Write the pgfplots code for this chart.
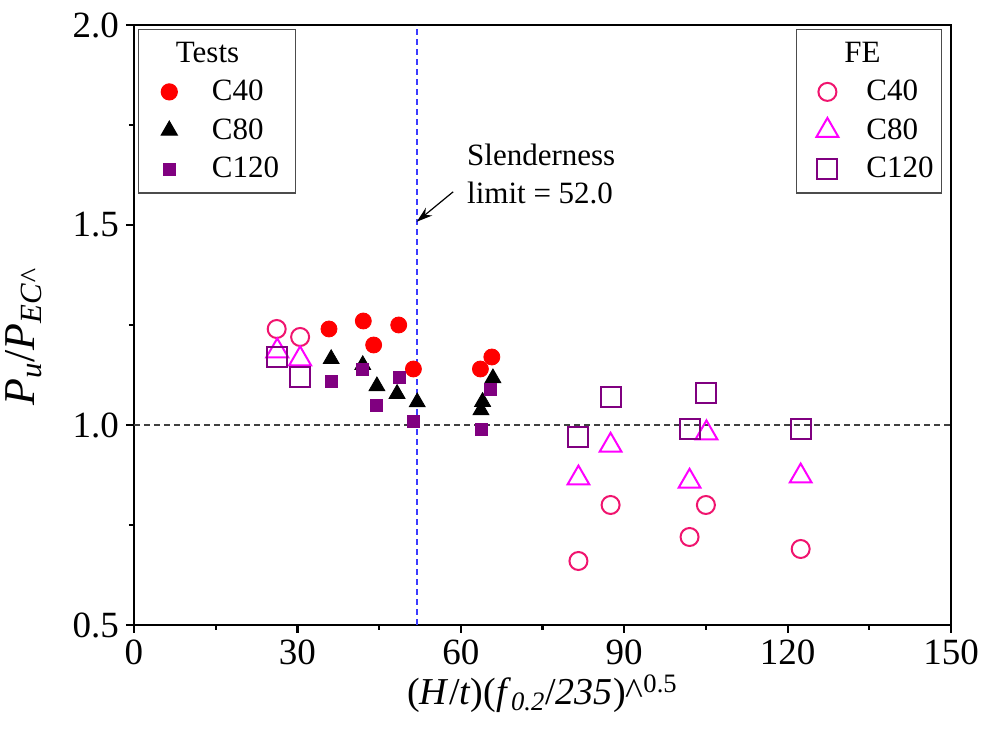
\documentclass[border=0pt]{standalone}
\usepackage{fontspec}
\setmainfont{Liberation Serif}
\usepackage{pgfplots}
\pgfplotsset{compat=1.18}
\usetikzlibrary{arrows.meta}
\definecolor{feRed}{RGB}{240,20,110}
\definecolor{fePink}{RGB}{255,0,255}
\definecolor{myPurple}{RGB}{128,0,128}
\definecolor{refBlue}{RGB}{60,60,255}

\pgfplotsset{
  common/.style={
    at={(0,0)}, anchor=south west,
    scale only axis, width=408.5pt, height=300pt,
    xmin=0, xmax=150, ymin=0.5, ymax=2.0,
  },
  mylegend/.style={
    legend style={draw=black!70, line width=0.6pt, fill=white,
      font=\fontsize{15.5}{18}\selectfont, row sep=3.5pt,
      inner xsep=5pt, inner ysep=4pt, cells={anchor=west},
      nodes={text width=#1, align=left}},
    legend cell align=left,
  },
  imgA/.style={
    legend image code/.code={%
      \path (0pt,0pt) (29pt,0pt);
      \draw[mark repeat=2, mark phase=2, ##1] plot coordinates {(0pt,0pt) (10pt,0pt) (20pt,0pt)};},
  },
  imgB/.style={
    legend image code/.code={%
      \path (0pt,0pt) (27pt,0pt);
      \draw[mark repeat=2, mark phase=2, ##1] plot coordinates {(0pt,0pt) (10pt,0pt) (20pt,0pt)};},
  },
}

\begin{document}
\begin{tikzpicture}
\useasboundingbox (-67pt,-58.5pt) rectangle (425.5pt,312.5pt);
\begin{axis}[common,
  axis line style={line width=1.2pt},
  xtick={0,30,...,150}, ytick={0.5,1.0,1.5,2.0},
  minor x tick num=1, minor y tick num=1,
  tick align=outside, tick pos=left,
  major tick length=4pt, minor tick length=2.5pt,
  tick style={line width=1.1pt, black},
  ticklabel style={font=\fontsize{18.5}{20}\selectfont},
  /pgf/number format/assume math mode=true,
  yticklabel style={/pgf/number format/fixed, /pgf/number format/fixed zerofill, /pgf/number format/precision=1},
  xlabel={(\textit{H}/\textit{t})(\textit{f}\textsubscript{\textit{0.2}}/\textit{235})\^{}\textsuperscript{0.5}},
  xlabel style={font=\fontsize{19}{22}\selectfont, at={(axis description cs:0.5,0)}, anchor=base, yshift=-40pt},
  ylabel={\textit{P}\textsubscript{\textit{u}}/\textit{P}\textsubscript{\textit{EC\^{}}}},
  ylabel style={font=\fontsize{22}{24}\selectfont, at={(axis description cs:-0.135,0.48)}, anchor=center},
  legend style={at={(0.005,0.993)}, anchor=north west},
  mylegend=35pt, imgA,
]
\addplot[color=refBlue, dash pattern=on 3pt off 2pt, line width=0.8pt, forget plot] coordinates {(52,0.5) (52,2.0)};
\addplot[color=black!75, dash pattern=on 3pt off 2pt, line width=0.8pt, forget plot] coordinates {(0,1.0) (150,1.0)};
\addlegendimage{empty legend}
\addlegendentry{\hspace*{-18pt}Tests}
\addplot[only marks, mark=*, mark size=4pt, draw=red, fill=red] coordinates {
 (35.8,1.24) (42.1,1.26) (44.0,1.20) (48.6,1.25) (51.3,1.14) (63.6,1.14) (65.7,1.17)};
\addlegendentry{C40}
\addplot[only marks, mark=triangle*, mark size=4.6pt, draw=black, fill=black] coordinates {
 (36.2,1.165) (42.0,1.15) (44.6,1.097) (48.3,1.078) (52.0,1.057) (64.0,1.058) (63.7,1.037) (65.9,1.117)};
\addlegendentry{C80}
\addplot[only marks, mark=square*, mark size=3pt, draw=myPurple, fill=myPurple] coordinates {
 (36.3,1.11) (42.0,1.14) (44.5,1.05) (48.8,1.12) (51.3,1.01) (63.7,0.99) (65.5,1.09)};
\addlegendentry{C120}
\draw[-{Stealth[length=8pt,width=5pt]}, line width=0.6pt] (axis cs:58.6,1.583) -- (axis cs:51.9,1.508);
\node[anchor=west, align=left, font=\fontsize{15.5}{19}\selectfont, inner sep=0pt] at (axis cs:61.1,1.628) {Slenderness\\limit = 52.0};
\end{axis}
\begin{axis}[common, hide axis,
  legend style={at={(0.989,0.993)}, anchor=north east},
  mylegend=30.5pt, imgB,
]
\addlegendimage{empty legend}
\addlegendentry{\hspace*{-11pt}FE}
\addplot[only marks, mark=o, mark size=4.5pt, draw=feRed, line width=1pt] coordinates {
 (26.2,1.24) (30.5,1.22) (81.6,0.66) (87.5,0.80) (102.0,0.72) (105.0,0.80) (122.4,0.69)};
\addlegendentry{C40}
\addplot[only marks, mark=triangle, mark size=6.3pt, draw=fePink, line width=1pt] coordinates {
 (26.3,1.185) (30.5,1.165) (81.6,0.867) (87.5,0.949) (102.0,0.859) (105.1,0.98) (122.4,0.872)};
\addlegendentry{C80}
\addplot[only marks, mark=square, mark size=5pt, draw=myPurple, line width=1pt] coordinates {
 (26.2,1.17) (30.5,1.12) (81.6,0.97) (87.5,1.07) (102.0,0.99) (105.0,1.08) (122.4,0.99)};
\addlegendentry{C120}
\end{axis}
\end{tikzpicture}
\end{document}
